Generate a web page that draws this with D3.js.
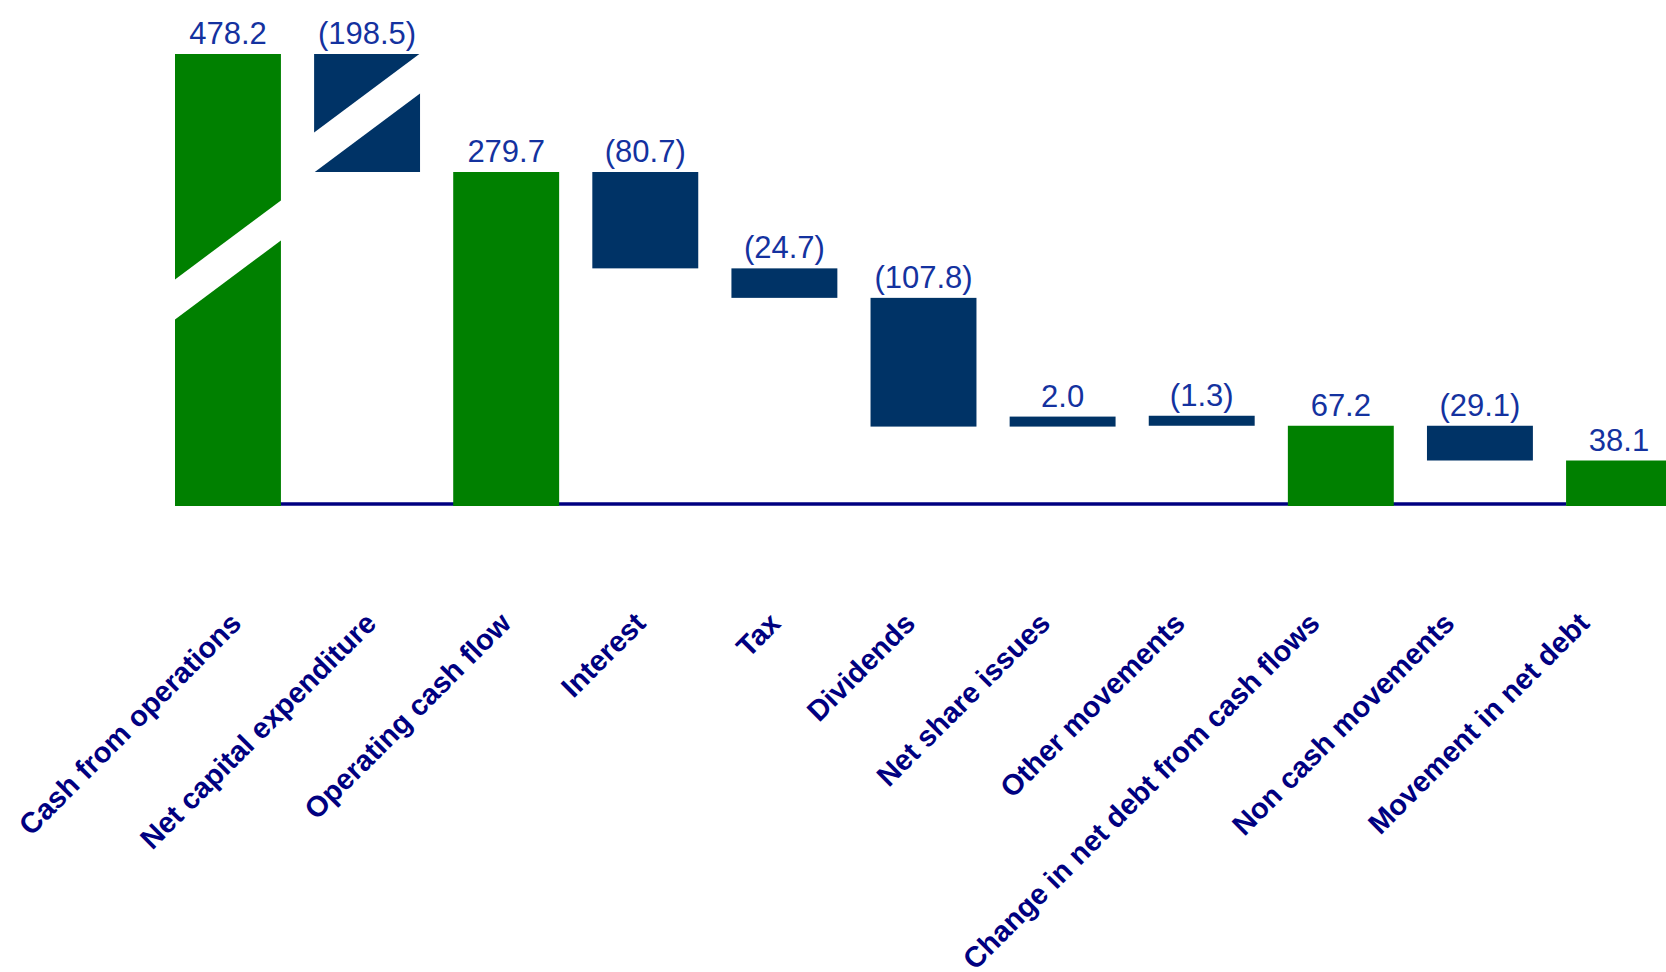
<!DOCTYPE html>
<html>
<head>
<meta charset="utf-8">
<script src="https://cdn.jsdelivr.net/npm/d3@7"></script>
<style>
  body { margin: 0; background: #fff; }
  svg { display: block; font-family: "Liberation Sans", Arial, sans-serif; }
</style>
</head>
<body>
<div id="chart"></div>
<script>
var categories = [
  'Cash from operations',
  'Net capital expenditure',
  'Operating cash flow',
  'Interest',
  'Tax',
  'Dividends',
  'Net share issues',
  'Other movements',
  'Change in net debt from cash flows',
  'Non cash movements',
  'Movement in net debt'
];
var values = [478.2, -198.5, 279.7, -80.7, -24.7, -107.8, 2.0, -1.3, 67.2, -29.1, 38.1];
var isTotal = [true, false, true, false, false, false, false, false, true, false, true];
// value ticks used by the broken y scale: zero, the first total below the break, the top
var yBreakTicks = [0, 279.7, 478.2];

(function() {
  'use strict';

  var width = 1666;
  var height = 972;
  var minBar = 10;

  // Build the waterfall steps.
  var running = 0;
  var steps = categories.map(function(name, i) {
    var v = values[i];
    var from, to;
    if (isTotal[i]) {
      from = 0;
      to = v;
      running = v;
    } else {
      from = running;
      to = running + v;
      running = to;
    }
    return { name: name, value: v, total: isTotal[i], lo: Math.min(from, to), hi: Math.max(from, to) };
  });

  var xScale = d3.scaleBand()
    .domain(categories)
    .range([175, 1672])
    .paddingInner(0.2385)
    .paddingOuter(0);

  // labels sit on their own evenly spaced positions
  var labelScale = d3.scalePoint()
    .domain(categories)
    .range([243, 1591]);

  // broken axis: the part above the first subtotal is compressed
  var yScale = d3.scaleLinear()
    .domain(yBreakTicks)
    .range([506, 172, 54]);

  var fmt = d3.format('.1f');
  function label(d) {
    return d.value < 0 ? '(' + fmt(-d.value) + ')' : fmt(d.value);
  }

  var svg = d3.select('#chart')
    .append('svg')
    .attr('width', width)
    .attr('height', height);

  // zero line
  svg.append('line')
    .attr('x1', xScale(categories[0]))
    .attr('x2', xScale(categories[categories.length - 1]))
    .attr('y1', yScale(0) - 2)
    .attr('y2', yScale(0) - 2)
    .attr('stroke', '#000080')
    .attr('stroke-width', 3.5);

  function barTop(d) {
    var t = yScale(d.hi);
    var b = yScale(d.lo);
    return (b - t < minBar) ? b - minBar : t;
  }

  var bars = svg.append('g').attr('class', 'bars');

  bars.selectAll('rect')
    .data(steps)
    .enter().append('rect')
    .attr('x', function(d) { return xScale(d.name); })
    .attr('y', barTop)
    .attr('width', xScale.bandwidth())
    .attr('height', function(d) { return yScale(d.lo) - barTop(d); })
    .attr('fill', function(d) { return d.total ? '#008000' : '#003366'; });

  // Axis break marks: white slanted bands across the first two bars.
  // Offset is where the band centre meets the bar's right edge, below the bar top.
  var breaks = [
    { index: 0, offset: 165 },
    { index: 1, offset: 18 }
  ];
  var slope = 0.745;
  var band = 40;
  breaks.forEach(function(b) {
    var d = steps[b.index];
    var x0 = xScale(d.name) - 2;
    var x1 = xScale(d.name) + xScale.bandwidth() + 2;
    var yc = barTop(d) + b.offset;
    var yl = yc + slope * (x1 - x0);
    svg.append('polygon')
      .attr('fill', '#fff')
      .attr('points', [
        [x0, yl - band / 2],
        [x1, yc - band / 2],
        [x1, yc + band / 2],
        [x0, yl + band / 2]
      ].map(function(p) { return p.join(','); }).join(' '));
  });

  // value labels
  svg.append('g').selectAll('text')
    .data(steps)
    .enter().append('text')
    .attr('x', function(d) { return xScale(d.name) + xScale.bandwidth() / 2; })
    .attr('y', function(d) { return barTop(d) - 10; })
    .attr('text-anchor', 'middle')
    .attr('font-size', '31px')
    .attr('fill', '#14329f')
    .text(label);

  // category labels
  svg.append('g').selectAll('text')
    .data(categories)
    .enter().append('text')
    .attr('transform', function(d) { return 'translate(' + labelScale(d) + ',625) rotate(-45)'; })
    .attr('text-anchor', 'end')
    .attr('font-size', '29px')
    .attr('font-weight', 'bold')
    .attr('fill', '#000080')
    .text(function(d) { return d; });
})();
</script>
</body>
</html>
